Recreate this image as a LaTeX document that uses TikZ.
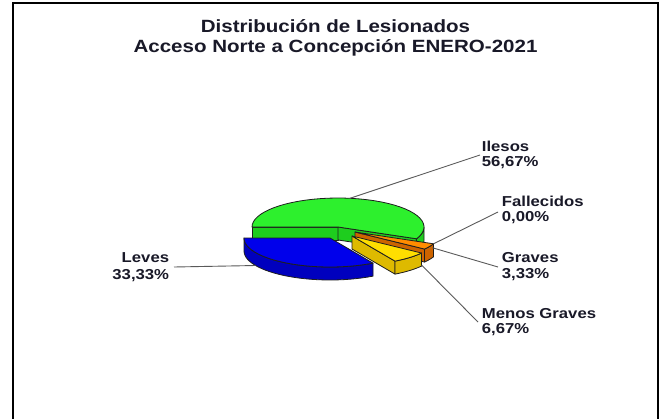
\documentclass[tikz,border=0pt]{standalone}
\usepackage{fontspec}
\newfontfamily\chartfont{Liberation Sans}[FakeStretch=1.16]
\definecolor{txt}{RGB}{25,25,40}
\definecolor{lead}{RGB}{90,90,90}
\definecolor{edge}{RGB}{30,30,30}
\definecolor{gtop}{RGB}{45,240,45}
\definecolor{gside}{RGB}{30,205,30}
\definecolor{btop}{RGB}{0,0,235}
\definecolor{bside}{RGB}{0,0,190}
\definecolor{ytop}{RGB}{255,222,0}
\definecolor{yside}{RGB}{222,186,0}
\definecolor{otop}{RGB}{255,140,0}
\definecolor{oside}{RGB}{205,100,0}
\def\pieRx{86}
\def\pieRy{29}
\def\pieDep{13}
\newcommand\slicetop[5]{\filldraw[face,fill=#5] (#1,#2) -- plot[domain=#3:#4,samples=40,variable=\t] ({#1+\pieRx*cos(\t)},{#2-\pieRy*sin(\t)}) -- cycle;}
\newcommand\sliceside[5]{\filldraw[face,fill=#5] plot[domain=#3:#4,samples=30,variable=\t] ({#1+\pieRx*cos(\t)},{#2-\pieRy*sin(\t)}) -- plot[domain=#4:#3,samples=30,variable=\t] ({#1+\pieRx*cos(\t)},{#2-\pieRy*sin(\t)+\pieDep}) -- cycle;}
\newcommand\slicecut[4]{\filldraw[face,fill=#4] (#1,#2) -- ({#1+\pieRx*cos(#3)},{#2-\pieRy*sin(#3)}) -- ({#1+\pieRx*cos(#3)},{#2-\pieRy*sin(#3)+\pieDep}) -- (#1,{#2+\pieDep}) -- cycle;}
\tikzset{
  lbl/.style={font=\chartfont\bfseries\fontsize{14.4}{15.5}\selectfont, text=txt, inner sep=0pt},
  ttl/.style={font=\chartfont\bfseries\fontsize{17.7}{20}\selectfont, text=txt, inner sep=0pt},
  leader/.style={draw=lead, line width=0.9pt},
  face/.style={draw=edge, line width=0.8pt, line join=round},
  frame/.style={draw=black, line width=2pt}
}
\begin{document}
\begin{tikzpicture}[x=1pt,y=-1pt]
\useasboundingbox (0,0) rectangle (664,418);
\fill[white] (0,0) rectangle (664,418);
\draw[frame] (13,440) -- (13,3) -- (658,3) -- (658,440);
% title
\node[ttl, anchor=base] (t1) at (335.5,32.7) {Distribución de Lesionados};
\node[ttl, anchor=base] (t2) at (335.5,52.7) {Acceso Norte a Concepción ENERO-2021};
% green (Ilesos), apex (338,227), 336..540
\slicecut{338}{227}{180}{gside}
\slicecut{338}{227}{336}{gside}
\sliceside{338}{227}{336}{360}{gside}
\slicetop{338}{227}{336}{540}{gtop}
% orange (Graves), apex (355,232), 324..336
\slicecut{355}{232}{324}{oside}
\sliceside{355}{232}{324}{336}{oside}
\slicetop{355}{232}{324}{336}{otop}
% yellow (Menos Graves), apex (352,236), 300..324
\slicecut{352}{236}{300}{yside}
\sliceside{352}{236}{300}{324}{yside}
\slicetop{352}{236}{300}{324}{ytop}
% blue (Leves), apex (330,238), 180..300
\sliceside{330}{238}{180}{300}{bside}
\slicetop{330}{238}{180}{300}{btop}
% labels
\node[lbl, anchor=base west] (il1) at (481.7,151.7) {Ilesos};
\node[lbl, anchor=base west] (il2) at (481.7,166.7) {56,67\%};
\node[lbl, anchor=base west] (fa1) at (501.7,206.7) {Fallecidos};
\node[lbl, anchor=base west] (fa2) at (501.7,221.7) {0,00\%};
\node[lbl, anchor=base west] (gr1) at (501.7,262.7) {Graves};
\node[lbl, anchor=base west] (gr2) at (501.7,278.0) {3,33\%};
\node[lbl, anchor=base west] (mg1) at (481.7,318.0) {Menos Graves};
\node[lbl, anchor=base west] (mg2) at (481.7,333.0) {6,67\%};
\node[lbl, anchor=base east] (le1) at (169.3,262.7) {Leves};
\node[lbl, anchor=base east] (le2) at (169.3,279.3) {33,33\%};
% leader end points
\coordinate (ilS) at (480,155);
\coordinate (faS) at (498,212);
\coordinate (grS) at (498,267);
\coordinate (mgS) at (478,322);
\coordinate (leS) at (174,267);
\coordinate (ilE) at ({338+86*cos(82)},{227-29*sin(82)});
\coordinate (faE) at ({355+86*cos(336)},{232-29*sin(336)});
\coordinate (grE) at ({355+86*cos(334)},{232-29*sin(334)+3});
\coordinate (mgE) at ({352+86*cos(324)},{236-29*sin(324)+12});
\coordinate (leE) at ({330+86*cos(210)},{238-29*sin(210)+13});
\draw[leader] (ilS) -- (ilE);
\draw[leader] (faS) -- (faE);
\draw[leader] (grS) -- (grE);
\draw[leader] (mgS) -- (mgE);
\draw[leader] (leS) -- (leE);
\end{tikzpicture}
\end{document}
